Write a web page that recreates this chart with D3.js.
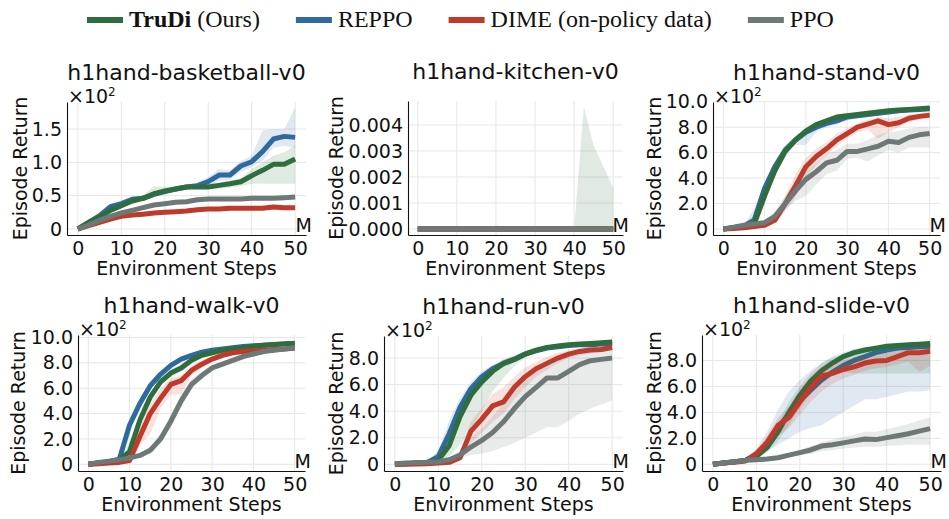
<!DOCTYPE html>
<html>
<head>
<meta charset="utf-8">
<script src="https://cdn.jsdelivr.net/npm/d3@7"></script>
<style>
  body { margin: 0; background: #fff; }
  svg { display: block; }
</style>
</head>
<body>
<div id="chart"></div>
<script>
// environment steps (millions)
var steps = [0, 2.5, 5, 7.5, 10, 12.5, 15, 17.5, 20, 22.5, 25, 27.5, 30, 32.5, 35, 37.5, 40, 42.5, 45, 47.5, 50];

var methodNames = ["TruDi", "REPPO", "DIME (on-policy data)", "PPO"];
var methodColors = ["#2e6e3e", "#2f6a9e", "#c03a2b", "#6e7876"];
var taskTitles = ["h1hand-basketball-v0", "h1hand-kitchen-v0", "h1hand-stand-v0",
                  "h1hand-walk-v0", "h1hand-run-v0", "h1hand-slide-v0"];

// basketball (x10^2)
var basketballTruDi   = [0,0.1,0.18,0.28,0.35,0.42,0.46,0.53,0.57,0.6,0.63,0.63,0.63,0.655,0.68,0.71,0.8,0.88,0.97,0.97,1.05];
var basketballTruDiLo = [0,0.08,0.15,0.24,0.31,0.38,0.42,0.48,0.52,0.56,0.6,0.6,0.6,0.6,0.62,0.64,0.68,0.68,0.68,0.68,0.68];
var basketballTruDiHi = [0,0.12,0.21,0.32,0.39,0.46,0.5,0.64,0.63,0.64,0.66,0.66,0.67,0.7,0.73,0.76,0.9,1.0,1.1,1.15,1.25];
var basketballReppo   = [0,0.1,0.2,0.335,0.38,0.445,0.46,0.52,0.56,0.6,0.63,0.65,0.71,0.81,0.81,0.945,1.01,1.16,1.35,1.39,1.375];
var basketballReppoLo = [0,0.08,0.17,0.3,0.35,0.42,0.43,0.49,0.53,0.57,0.6,0.61,0.64,0.72,0.74,0.86,0.93,1.02,1.22,1.25,1.22];
var basketballReppoHi = [0,0.12,0.23,0.37,0.41,0.47,0.49,0.55,0.59,0.63,0.66,0.69,0.78,0.9,0.88,1.02,1.1,1.48,1.5,1.5,1.82];
var basketballDime    = [0,0.05,0.1,0.15,0.19,0.21,0.22,0.24,0.25,0.26,0.27,0.29,0.3,0.3,0.31,0.31,0.31,0.31,0.33,0.32,0.32];
var basketballDimeLo  = [0,0.04,0.085,0.135,0.175,0.195,0.205,0.225,0.235,0.245,0.255,0.275,0.285,0.285,0.295,0.295,0.295,0.295,0.315,0.305,0.305];
var basketballDimeHi  = [0,0.06,0.115,0.165,0.205,0.225,0.235,0.255,0.265,0.275,0.285,0.305,0.315,0.315,0.325,0.325,0.325,0.325,0.345,0.335,0.335];
var basketballPpo     = [0,0.06,0.13,0.19,0.24,0.28,0.32,0.36,0.38,0.4,0.41,0.44,0.45,0.45,0.45,0.45,0.46,0.46,0.46,0.47,0.48];
var basketballPpoLo   = [0,0.04,0.1,0.16,0.21,0.25,0.29,0.33,0.35,0.37,0.38,0.41,0.42,0.42,0.42,0.42,0.43,0.43,0.43,0.44,0.45];
var basketballPpoHi   = [0,0.08,0.16,0.22,0.27,0.31,0.35,0.39,0.41,0.43,0.44,0.47,0.48,0.48,0.48,0.48,0.49,0.49,0.49,0.5,0.51];

// kitchen
var kitchenZero    = [0,0,0,0,0,0,0,0,0,0,0,0,0,0,0,0,0,0,0,0,0];
var kitchenTruDiHi = [0,0,0,0,0,0,0,0,0,0,0,0,0,0,0,0,0,0.0047,0.0032,0.0024,0.0016];

// stand (x10^2)
var standTruDi   = [0,0.1,0.25,0.4,2.6,4.6,6.1,7.0,7.7,8.2,8.5,8.8,8.9,9.0,9.1,9.2,9.3,9.35,9.4,9.45,9.5];
var standTruDiLo = [0,0.05,0.15,0.3,2.0,4.1,5.7,6.7,7.4,7.9,8.2,8.5,8.7,8.8,8.9,9.0,9.1,9.15,9.2,9.25,9.3];
var standTruDiHi = [0,0.15,0.35,1.6,3.6,5.2,6.5,7.3,8.0,8.4,8.7,9.0,9.1,9.2,9.3,9.35,9.45,9.5,9.55,9.6,9.65];
var standReppo   = [0,0.1,0.25,0.7,3.2,4.9,6.2,7.0,7.6,8.0,8.3,8.5,8.8,8.9,9.0,9.1,9.2,9.3,9.35,9.4,9.45];
var standReppoLo = [0,0.05,0.15,0.3,2.6,4.3,5.8,6.6,6.6,7.6,8.0,8.2,8.5,8.7,8.8,8.9,9.0,9.1,9.15,9.2,9.25];
var standReppoHi = [0,0.15,0.35,1.1,3.6,5.3,6.6,7.3,7.9,8.3,8.6,8.8,9.0,9.1,9.2,9.3,9.4,9.45,9.5,9.55,9.6];
var standDime    = [0,0.05,0.1,0.2,0.3,0.7,2.0,3.4,4.9,5.7,6.3,7.0,7.5,8.0,8.25,8.5,8.2,8.35,8.7,8.85,8.95];
var standDimeLo  = [0,0,0.05,0.1,0.2,0.4,1.4,2.5,4.0,5.0,5.8,6.5,7.1,7.6,7.8,7.1,7.6,8.0,8.4,8.6,8.7];
var standDimeHi  = [0,0.1,0.15,0.3,0.4,1.0,2.6,4.3,5.6,6.3,6.8,7.5,7.9,8.3,8.6,8.8,8.7,8.8,9.0,9.1,9.2];
var standPpo     = [0,0.15,0.3,0.4,0.5,1.0,2.0,3.0,3.9,4.5,5.2,5.4,6.1,6.1,6.3,6.5,6.9,6.8,7.2,7.4,7.5];
var standPpoLo   = [0,0.1,0.2,0.3,0.4,0.7,1.5,2.2,2.6,3.5,4.3,4.6,5.5,5.6,5.3,5.8,6.2,6.0,6.4,6.4,6.4];
var standPpoHi   = [0,0.2,0.4,0.5,0.7,1.4,2.6,3.8,4.6,5.2,5.9,6.2,6.7,6.7,7.0,7.4,7.6,7.7,7.9,8.0,8.0];

// walk (x10^2)
var walkTruDi   = [0,0.1,0.2,0.35,1.0,3.5,5.3,6.5,7.2,7.6,8.2,8.6,8.8,9.0,9.1,9.2,9.3,9.4,9.45,9.5,9.55];
var walkTruDiLo = [0,0.05,0.15,0.25,0.6,3.1,5.0,6.2,6.9,7.3,7.9,8.4,8.6,8.8,8.9,9.0,9.1,9.2,9.3,9.35,9.4];
var walkTruDiHi = [0,0.15,0.25,0.45,1.8,3.9,5.6,6.8,7.5,7.9,8.5,8.8,9.0,9.2,9.3,9.4,9.45,9.55,9.6,9.65,9.7];
var walkReppo   = [0,0.1,0.2,0.4,3.1,4.8,6.2,7.1,7.8,8.3,8.6,8.85,9.0,9.1,9.2,9.3,9.35,9.4,9.45,9.5,9.5];
var walkReppoLo = [0,0.05,0.1,0.3,2.9,4.6,6.0,6.9,7.6,8.1,8.45,8.7,8.85,9.0,9.1,9.2,9.25,9.3,9.35,9.4,9.4];
var walkReppoHi = [0,0.15,0.3,0.5,3.3,5.0,6.4,7.3,8.0,8.45,8.75,9.0,9.15,9.2,9.3,9.4,9.45,9.5,9.55,9.6,9.6];
var walkDime    = [0,0.05,0.1,0.15,0.3,2.2,4.0,5.2,6.3,6.6,7.4,7.9,8.3,8.6,8.8,8.9,8.95,9.0,9.05,9.1,9.15];
var walkDimeLo  = [0,0,0.05,0.1,0.2,1.5,2.4,4.4,5.5,5.5,7.0,7.6,8.1,8.4,8.6,8.7,8.8,8.85,8.9,8.95,9.0];
var walkDimeHi  = [0,0.1,0.15,0.2,0.5,3.0,4.8,6.0,6.8,7.0,7.8,8.2,8.5,8.8,9.0,9.1,9.1,9.15,9.2,9.25,9.3];
var walkPpo     = [0,0.15,0.25,0.35,0.5,0.7,1.1,2.0,3.4,5.0,6.3,7.0,7.6,7.9,8.2,8.5,8.7,8.9,9.0,9.1,9.2];
var walkPpoLo   = [0,0.1,0.2,0.3,0.4,0.55,0.8,1.6,2.9,4.5,5.9,6.7,7.4,7.7,8.0,8.3,8.5,8.7,8.85,8.95,9.05];
var walkPpoHi   = [0,0.2,0.3,0.4,0.6,0.85,1.4,2.4,3.9,5.5,6.7,7.3,7.8,8.1,8.4,8.7,8.9,9.1,9.15,9.25,9.35];

// run (x10^2)
var runTruDi   = [0,0.05,0.1,0.15,0.3,1.4,3.6,5.2,6.2,7.0,7.6,7.9,8.3,8.6,8.8,8.9,9.0,9.05,9.1,9.15,9.2];
var runTruDiLo = [0,0,0.05,0.1,0.2,0.6,1.5,2.5,4.0,5.5,6.5,7.4,8.0,8.4,8.6,8.8,8.9,8.95,9.0,9.05,9.1];
var runTruDiHi = [0,0.1,0.15,0.2,0.5,2.0,4.2,5.6,6.6,7.4,7.9,8.2,8.55,8.8,8.95,9.05,9.15,9.2,9.25,9.3,9.3];
var runReppo   = [0,0.05,0.1,0.15,0.6,2.3,4.3,5.7,6.6,7.2,7.6,7.9,8.3,8.55,8.75,8.85,8.95,9.0,9.0,9.05,9.1];
var runReppoLo = [0,0,0.05,0.1,0.3,1.7,3.8,5.3,6.3,6.9,7.3,7.7,8.1,8.4,8.6,8.7,8.8,8.85,8.85,8.9,8.95];
var runReppoHi = [0,0.1,0.15,0.2,1.0,3.3,5.0,6.2,7.0,7.5,7.9,8.2,8.5,8.7,8.9,9.0,9.1,9.15,9.15,9.2,9.25];
var runDime    = [0,0,0.02,0.05,0.1,0.15,0.5,2.5,3.4,4.4,4.7,5.8,6.6,7.2,7.6,8.0,8.3,8.5,8.6,8.65,8.8];
var runDimeLo  = [0,0,0,0,0.05,0.1,0.3,1.6,2.4,3.2,3.8,4.9,5.8,6.6,7.1,7.6,8.0,8.2,8.35,8.45,8.6];
var runDimeHi  = [0,0.02,0.05,0.1,0.15,0.25,0.9,3.2,4.2,5.3,5.8,6.6,7.3,7.7,8.1,8.4,8.6,8.75,8.85,8.9,9.0];
var runPpo     = [0.05,0.1,0.12,0.15,0.2,0.35,0.7,1.3,1.8,2.4,3.2,4.2,5.1,5.8,6.5,6.5,7.0,7.5,7.8,7.9,8.0];
var runPpoLo   = [0,0.05,0.08,0.1,0.15,0.25,0.5,0.7,0.8,1.0,1.3,1.6,2.0,2.4,2.8,2.8,3.3,3.8,4.2,4.5,4.8];
var runPpoHi   = [0.1,0.15,0.16,0.2,0.3,0.5,1.0,2.0,2.7,3.6,4.6,5.5,6.3,7.0,7.6,7.8,8.2,8.5,8.6,8.7,8.8];

// slide (x10^2)
var slideTruDi   = [0,0.1,0.2,0.3,0.6,1.3,2.5,4.0,5.3,6.4,7.2,7.8,8.3,8.6,8.8,8.95,9.1,9.15,9.2,9.25,9.3];
var slideTruDiLo = [0,0.05,0.15,0.2,0.4,0.9,1.8,3.0,4.3,5.4,6.2,6.8,7.1,7.0,7.0,7.0,7.0,7.0,7.0,7.0,7.0];
var slideTruDiHi = [0,0.15,0.25,0.4,0.8,1.7,3.2,4.8,6.0,7.0,7.8,8.3,8.6,8.9,9.0,9.1,9.2,9.25,9.3,9.35,9.4];
var slideReppo   = [0,0.1,0.2,0.3,0.8,1.6,2.8,3.9,4.9,5.7,6.5,7.1,7.6,8.0,8.3,8.6,8.8,8.95,9.0,9.05,9.1];
var slideReppoLo = [0,0.05,0.1,0.2,0.5,1.0,1.5,2.0,2.5,2.8,3.0,3.5,4.0,4.5,5.0,5.0,5.2,5.4,5.6,5.6,5.7];
var slideReppoHi = [0,0.15,0.3,0.4,1.2,2.5,4.2,5.6,6.5,7.2,7.8,8.2,8.5,8.8,9.0,9.1,9.2,9.25,9.3,9.3,9.35];
var slideDime    = [0,0.1,0.15,0.25,0.8,1.7,3.0,3.6,4.8,5.9,6.8,7.0,7.3,7.5,7.8,7.95,8.0,8.3,8.6,8.6,8.7];
var slideDimeLo  = [0,0.05,0.1,0.2,0.5,1.2,2.2,2.8,3.8,4.8,5.6,6.2,6.6,6.9,7.2,7.4,7.5,7.7,7.9,7.1,7.6];
var slideDimeHi  = [0,0.15,0.2,0.3,1.1,2.2,3.6,4.4,5.8,6.8,7.5,7.8,8.0,8.2,8.4,8.5,8.6,8.8,9.0,9.0,9.1];
var slidePpo     = [0,0.1,0.2,0.3,0.35,0.4,0.5,0.7,0.9,1.1,1.4,1.5,1.65,1.8,1.95,1.9,2.05,2.2,2.35,2.55,2.75];
var slidePpoLo   = [0,0.05,0.15,0.25,0.3,0.35,0.4,0.55,0.7,0.8,1.0,1.1,1.2,1.3,1.35,1.35,1.4,1.45,1.5,1.5,1.5];
var slidePpoHi   = [0,0.15,0.25,0.35,0.4,0.5,0.6,0.85,1.1,1.4,1.7,1.9,2.1,2.3,2.5,2.5,2.7,2.9,3.1,3.4,3.6];

// y ticks per panel
var basketballTicks = [0, 0.5, 1.0, 1.5];
var kitchenTicks = [0, 0.001, 0.002, 0.003, 0.004];
var standTicks = [0, 2, 4, 6, 8, 10];
var walkTicks = [0, 2, 4, 6, 8, 10];
var runTicks = [0, 2, 4, 6, 8];
var slideTicks = [0, 2, 4, 6, 8];
var xTicks = [0, 10, 20, 30, 40, 50];

// each panel: series in the order [TruDi, REPPO, DIME, PPO] as [mean, lo, hi]
var panelSeries = [
  [[basketballTruDi, basketballTruDiLo, basketballTruDiHi], [basketballReppo, basketballReppoLo, basketballReppoHi],
   [basketballDime, basketballDimeLo, basketballDimeHi], [basketballPpo, basketballPpoLo, basketballPpoHi]],
  [[kitchenZero, kitchenZero, kitchenTruDiHi], [kitchenZero, kitchenZero, kitchenZero],
   [kitchenZero, kitchenZero, kitchenZero], [kitchenZero, kitchenZero, kitchenZero]],
  [[standTruDi, standTruDiLo, standTruDiHi], [standReppo, standReppoLo, standReppoHi],
   [standDime, standDimeLo, standDimeHi], [standPpo, standPpoLo, standPpoHi]],
  [[walkTruDi, walkTruDiLo, walkTruDiHi], [walkReppo, walkReppoLo, walkReppoHi],
   [walkDime, walkDimeLo, walkDimeHi], [walkPpo, walkPpoLo, walkPpoHi]],
  [[runTruDi, runTruDiLo, runTruDiHi], [runReppo, runReppoLo, runReppoHi],
   [runDime, runDimeLo, runDimeHi], [runPpo, runPpoLo, runPpoHi]],
  [[slideTruDi, slideTruDiLo, slideTruDiHi], [slideReppo, slideReppoLo, slideReppoHi],
   [slideDime, slideDimeLo, slideDimeHi], [slidePpo, slidePpoLo, slidePpoHi]]
];
var panelTicks = [basketballTicks, kitchenTicks, standTicks, walkTicks, runTicks, slideTicks];

// layout: axes boxes [left, top, right, bottom], y domains, y label centres
var boxes = [
  [67, 102, 306, 235], [408, 101, 623, 235], [713, 102, 940, 235],
  [78, 335, 305, 471], [384, 336, 623, 471], [702, 335, 941, 471]
];
var yDomains = [[-0.09, 1.906], [-0.00023, 0.00492], [-0.47, 9.98],
                [-0.53, 10.2], [-0.5, 9.66], [-0.52, 9.96]];
var yLabelX = [20, 336, 654, 18, 336, 654];
var hasOffset = [true, false, true, true, true, true];
var drawOrder = [1, 0, 2, 3];

var W = 949, H = 519;
var font = "DejaVu Sans, sans-serif";

var svg = d3.select("#chart").append("svg")
    .attr("width", W)
    .attr("height", H)
    .attr("viewBox", "0 0 " + W + " " + H);

svg.append("rect").attr("width", W).attr("height", H).attr("fill", "#fff");

function yFormat(i) {
  if (i === 1) return d3.format(".3f");
  return function(v) { return v === 0 ? "0" : v.toFixed(1); };
}

boxes.forEach(function(b, i) {
  var x = d3.scaleLinear().domain([-2.5, 52.5]).range([b[0], b[2]]);
  var y = d3.scaleLinear().domain(yDomains[i]).range([b[3], b[1]]);
  var g = svg.append("g");

  // grid
  g.selectAll(".gx").data(xTicks).enter().append("line")
    .attr("x1", function(d) { return x(d); }).attr("x2", function(d) { return x(d); })
    .attr("y1", b[1]).attr("y2", b[3])
    .attr("stroke", "#e6e6e6").attr("stroke-width", 1);
  g.selectAll(".gy").data(panelTicks[i]).enter().append("line")
    .attr("x1", b[0]).attr("x2", b[2])
    .attr("y1", function(d) { return y(d); }).attr("y2", function(d) { return y(d); })
    .attr("stroke", "#e6e6e6").attr("stroke-width", 1);

  var clipId = "clip" + i;
  svg.append("clipPath").attr("id", clipId).append("rect")
    .attr("x", b[0]).attr("y", b[1]).attr("width", b[2] - b[0]).attr("height", b[3] - b[1]);
  var plot = g.append("g").attr("clip-path", "url(#" + clipId + ")");

  var area = d3.area()
    .x(function(d) { return x(d.x); })
    .y0(function(d) { return y(d.lo); })
    .y1(function(d) { return y(d.hi); });
  var line = d3.line()
    .x(function(d) { return x(d.x); })
    .y(function(d) { return y(d.m); });

  drawOrder.forEach(function(k) {
    var s = panelSeries[i][k];
    var pts = steps.map(function(t, j) { return {x: t, m: s[0][j], lo: s[1][j], hi: s[2][j]}; });
    plot.append("path").datum(pts)
      .attr("d", area)
      .attr("fill", methodColors[k]).attr("fill-opacity", 0.15);
    plot.append("path").datum(pts)
      .attr("d", line)
      .attr("fill", "none")
      .attr("stroke", methodColors[k])
      .attr("stroke-width", 5)
      .attr("stroke-linejoin", "round");
  });

  // axes (no tick marks, as in the reference)
  var xa = g.append("g").attr("transform", "translate(0," + b[3] + ")")
    .call(d3.axisBottom(x).tickValues(xTicks).tickSize(0).tickSizeOuter(0).tickPadding(7));
  var ya = g.append("g").attr("transform", "translate(" + b[0] + ",0)")
    .call(d3.axisLeft(y).tickValues(panelTicks[i]).tickFormat(yFormat(i)).tickSize(0).tickSizeOuter(0).tickPadding(5));
  [xa, ya].forEach(function(a) {
    a.selectAll("text").attr("font-family", font).attr("font-size", 19).attr("fill", "#111");
    a.select(".domain").attr("stroke", "#111").attr("stroke-width", 1.1);
  });

  // title
  g.append("text")
    .attr("x", (b[0] + b[2]) / 2).attr("y", b[1] - 22)
    .attr("text-anchor", "middle")
    .attr("font-family", font).attr("font-size", 22).attr("fill", "#111")
    .text(taskTitles[i]);

  // x label
  g.append("text")
    .attr("x", (b[0] + b[2]) / 2).attr("y", b[3] + 40)
    .attr("text-anchor", "middle")
    .attr("font-family", font).attr("font-size", 19).attr("fill", "#111")
    .text("Environment Steps");

  // y label
  g.append("text")
    .attr("transform", "translate(" + yLabelX[i] + "," + ((b[1] + b[3]) / 2) + ") rotate(-90)")
    .attr("dy", "0.35em")
    .attr("text-anchor", "middle")
    .attr("font-family", font).attr("font-size", 19).attr("fill", "#111")
    .text("Episode Return");

  // unit "M"
  g.append("text")
    .attr("x", b[2] + 6).attr("y", b[3] - 3)
    .attr("text-anchor", "end")
    .attr("font-family", font).attr("font-size", 19).attr("fill", "#111")
    .text("M");

  // offset text x10^2
  if (hasOffset[i]) {
    var off = g.append("text")
      .attr("x", b[0] + 1).attr("y", b[1] + 1)
      .attr("font-family", font).attr("font-size", 19).attr("fill", "#111");
    off.append("tspan").text("\u00d710");
    off.append("tspan").attr("font-size", 12).attr("dy", -7).text("2");
  }
});

// legend
var legend = svg.append("g");
var lx = 87;
methodNames.forEach(function(name, k) {
  legend.append("line")
    .attr("x1", lx).attr("x2", lx + 36)
    .attr("y1", 20).attr("y2", 20)
    .attr("stroke", methodColors[k]).attr("stroke-width", 6);
  var t = legend.append("text")
    .attr("x", lx + 42).attr("y", 27)
    .attr("font-family", "Liberation Serif, Times New Roman, serif")
    .attr("font-size", 24).attr("fill", "#111");
  if (k === 0) {
    t.append("tspan").attr("font-weight", "bold").text("TruDi");
    t.append("tspan").text(" (Ours)");
  } else {
    t.text(name);
  }
  lx = lx + 42 + t.node().getComputedTextLength() + 36;
});
</script>
</body>
</html>
